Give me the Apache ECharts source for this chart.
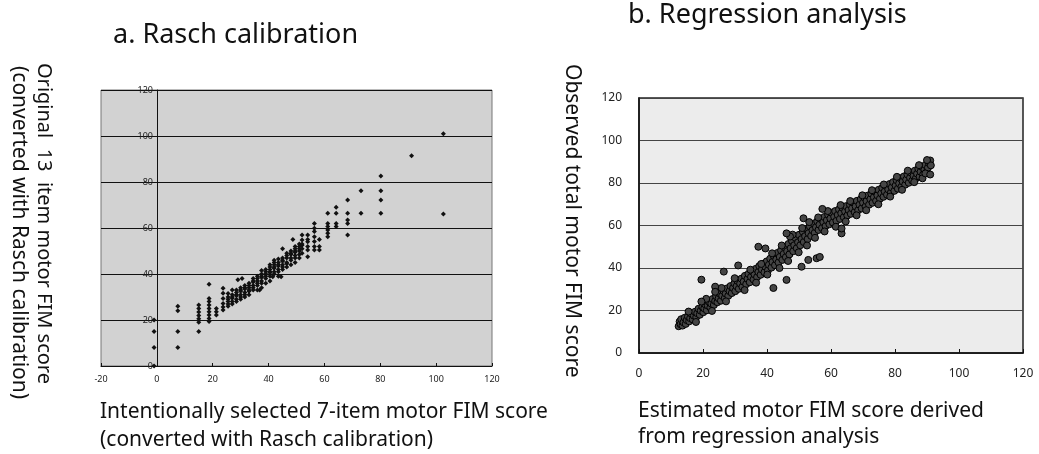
<!DOCTYPE html>
<html>
<head>
<meta charset="utf-8">
<script src="https://cdn.jsdelivr.net/npm/echarts@6/dist/echarts.min.js"></script>
<style>
  html, body { margin: 0; padding: 0; background: #fff; }
  #main { width: 1039px; height: 454px; }
</style>
</head>
<body>
<div id="main"></div>
<script>
// a. Rasch calibration: [7-item score, 13-item score]
const raschPoints = [
  [-1, 0], [-1, 8], [-1, 15], [-1, 20],
  [7.5, 8], [7.5, 15], [7.5, 24], [7.5, 26],
  [15, 15], [15, 19], [15, 20.5], [15, 22], [15, 23.5], [15, 25], [15, 26.5],
  [18.7, 19.3], [18.7, 20.7], [18.7, 22.2], [18.7, 23.6], [18.7, 25], [18.7, 26.5], [18.7, 28], [18.7, 29.4], [18.7, 35.5],
  [21.3, 22.2], [21.3, 23.6], [21.3, 25],
  [23.7, 24.3], [23.7, 25.7], [23.7, 27.2], [23.7, 29.4], [23.7, 31.6], [23.7, 33.8],
  [25.5, 26], [25.5, 27], [25.5, 28], [25.5, 29], [25.5, 30], [25.5, 31.5],
  [27, 27], [27, 28], [27, 29.5], [27, 30], [27, 31], [27, 33],
  [28.5, 28], [28.5, 29], [28.5, 30.5], [28.5, 31], [28.5, 32], [28.5, 33], [29, 37.5],
  [30, 29], [30, 30], [30, 31], [30, 32.5], [30, 33], [30, 34], [30.5, 38],
  [31.5, 30], [31.5, 31], [31.5, 32], [31.5, 33.5], [31.5, 34], [31.5, 35],
  [33, 31], [33, 32.5], [33, 33], [33, 34], [33, 35], [33, 36],
  [34.5, 33], [34.5, 34], [34.5, 35], [34.5, 36.5], [34.5, 37], [34.5, 38],
  [36, 33], [36, 35], [36, 36], [36, 37], [36, 38], [36, 39], [36.8, 33],
  [37.5, 34], [37.5, 36], [37.5, 37], [37.5, 38.5], [37.5, 39], [37.5, 40], [37.5, 41.5],
  [39, 36], [39, 38], [39, 39], [39, 40], [39, 41], [39, 42],
  [40.5, 37], [40.5, 39], [40.5, 40.5], [40.5, 41], [40.5, 42], [40.5, 43], [40.5, 44],
  [41.5, 38.8], [42, 40], [42, 41], [42, 42.5], [42, 43], [42, 44], [42, 45], [42, 46],
  [43.5, 39], [43.5, 41], [43.5, 42], [43.5, 43.5], [43.5, 44], [43.5, 45], [43.5, 46.5], [44.5, 38.8],
  [45, 42], [45, 43], [45, 44], [45, 45.5], [45, 46], [45, 47], [45, 51],
  [46.5, 43], [46.5, 44.5], [46.5, 45], [46.5, 47], [46.5, 48], [46.5, 49],
  [48, 44], [48, 46], [48, 47], [48, 48.5], [48, 49], [48, 50], [48.7, 55],
  [49.5, 45], [49.5, 47], [49.5, 48], [49.5, 49.5], [49.5, 50], [49.5, 51], [49.5, 52],
  [51, 47], [51, 48.5], [51, 50], [51, 51], [51, 52], [51, 53],
  [52, 49], [52, 51], [52, 52.5], [52, 53], [52, 54.8], [52, 57],
  [54, 47.5], [54, 50.4], [54, 52], [54, 54], [54, 55], [54, 57],
  [56.4, 50.4], [56.4, 52], [56.4, 54.1], [56.4, 56.2], [56.4, 58.5], [56.4, 59.9], [56.4, 62],
  [58.2, 50.4], [58.2, 52], [58.2, 55],
  [61.2, 56.2], [61.2, 57.7], [61.2, 59.1], [61.2, 60.6], [61.2, 62], [61.2, 66.4],
  [64.2, 60.6], [64.2, 62], [64.2, 66.4], [64.2, 69],
  [68.3, 57], [68.3, 62], [68.3, 63.5], [68.3, 66.4], [68.3, 72.2],
  [73.1, 66.4], [73.1, 76.2],
  [80.2, 66.4], [80.2, 72.2], [80.2, 76.2], [80.2, 82.6],
  [91.2, 91.4],
  [102.6, 66.1], [102.6, 101]
];

// b. Regression analysis: [estimated score, observed score]
const regressionBand = [
  [12.4, 12.6], [12.7, 14.8], [13.0, 13.5], [13.2, 15.9], [13.6, 12.9], [13.9, 14.4], [14.3, 16.6],
  [14.6, 13.7], [14.9, 15.5], [15.3, 17.2], [15.7, 14.9], [16.0, 16.4], [16.3, 18.5], [16.8, 15.8],
  [17.1, 17.6], [17.5, 19.4], [17.9, 16.9], [18.2, 18.7], [18.6, 20.8], [19.0, 18.0], [19.3, 19.9],
  [19.8, 21.7], [20.1, 19.2], [20.4, 21.0], [20.7, 22.9], [21.2, 20.1], [21.5, 22.3], [21.9, 24.1],
  [22.3, 21.4], [22.6, 23.2], [23.0, 25.4], [23.4, 22.6], [23.8, 24.5], [24.1, 26.8], [24.5, 23.9],
  [24.9, 25.7], [25.3, 27.9], [25.6, 24.6], [26.0, 26.9], [26.4, 29.2], [26.8, 25.8], [27.1, 28.0],
  [27.5, 30.4], [27.9, 26.9], [28.3, 29.1], [28.6, 31.5], [29.0, 28.2], [29.4, 30.6], [29.8, 32.8],
  [30.1, 29.1], [30.5, 31.4], [30.8, 33.9], [31.2, 30.2], [31.6, 32.7], [32.0, 35.0], [32.3, 31.1],
  [32.7, 33.6], [33.1, 36.3], [33.5, 32.4], [33.9, 34.9], [34.2, 37.2], [34.6, 33.3], [35.0, 35.8],
  [35.4, 38.4], [35.8, 34.6], [36.1, 37.0], [36.5, 39.6], [36.9, 35.7], [37.3, 38.1], [37.6, 40.9],
  [38.0, 36.8], [38.4, 39.3], [38.8, 42.0], [39.2, 38.0], [39.5, 40.6], [39.9, 43.1],
  [40.3, 38.9], [40.6, 41.5], [41.0, 44.4], [41.4, 40.2], [41.7, 42.8], [42.1, 45.7], [42.5, 41.3],
  [42.9, 44.0], [43.3, 47.1], [43.6, 42.6], [44.0, 45.2], [44.4, 48.3], [44.8, 43.8], [45.2, 46.6],
  [45.5, 49.8], [45.9, 45.1], [46.3, 47.9], [46.7, 51.3], [47.0, 46.4], [47.4, 49.3], [47.8, 52.8],
  [48.2, 47.9], [48.5, 50.7], [48.9, 54.2], [49.3, 49.3], [49.7, 52.1],
  [50.0, 55.6], [50.4, 50.7], [50.8, 53.6], [51.2, 57.1], [51.5, 52.2], [51.9, 55.0], [52.3, 58.4],
  [52.7, 53.6], [53.0, 56.4], [53.4, 59.6], [53.8, 55.1], [54.2, 57.8], [54.6, 60.9], [54.9, 56.5],
  [55.3, 59.2], [55.7, 62.0], [56.1, 57.9], [56.4, 60.4], [56.8, 63.1], [57.2, 58.8], [57.6, 61.6],
  [57.9, 64.0], [58.3, 59.7], [58.7, 62.5], [59.1, 65.1], [59.5, 60.6], [59.8, 63.3],
  [60.2, 66.0], [60.6, 61.4], [61.0, 64.1], [61.3, 66.8], [61.7, 62.2], [62.1, 65.0], [62.5, 67.6],
  [62.8, 63.1], [63.2, 65.8], [63.6, 68.3], [64.0, 63.9], [64.4, 66.6], [64.7, 69.1], [65.1, 64.7],
  [65.5, 67.3], [65.9, 69.9], [66.2, 65.5], [66.6, 68.1], [67.0, 70.8], [67.4, 66.3], [67.7, 69.0],
  [68.1, 71.6], [68.5, 67.2], [68.9, 69.8], [69.3, 72.4], [69.6, 68.0],
  [70.0, 70.7], [70.4, 73.2], [70.8, 68.9], [71.1, 71.5], [71.5, 74.1], [71.9, 69.8], [72.3, 72.4],
  [72.6, 75.0], [73.0, 70.7], [73.4, 73.3], [73.8, 75.9], [74.1, 71.6], [74.5, 74.2], [74.9, 76.8],
  [75.3, 72.6], [75.7, 75.1], [76.0, 77.7], [76.4, 73.5], [76.8, 76.0], [77.2, 78.6], [77.5, 74.5],
  [77.9, 77.0], [78.3, 79.5], [78.7, 75.4], [79.0, 77.9], [79.4, 80.4], [79.8, 76.3],
  [80.2, 78.8], [80.5, 81.3], [80.9, 77.3], [81.3, 79.8], [81.7, 82.2], [82.0, 78.2], [82.4, 80.7],
  [82.8, 83.1], [83.2, 79.2], [83.5, 81.6], [83.9, 84.0], [84.3, 80.1], [84.7, 82.5], [85.0, 84.9],
  [85.4, 81.1], [85.8, 83.4], [86.2, 85.8], [86.5, 82.1], [86.9, 84.4], [87.3, 86.7], [87.7, 83.0],
  [88.0, 85.3], [88.4, 87.6], [88.8, 84.0], [89.2, 86.2], [89.5, 88.5], [89.9, 85.1], [90.3, 87.2],
  [90.6, 89.4], [91.0, 90.6], [91.2, 88.3]
];

// rough edges of the band
const regressionEdge = [
  [15.5, 19.5], [17.8, 14.6], [21.0, 25.5], [22.8, 19.8], [25.8, 30.6], [27.2, 24.3], [29.9, 35.2],
  [33.0, 29.6], [34.8, 39.2], [36.6, 33.1], [38.2, 41.9], [40.1, 36.9], [41.6, 46.9], [43.9, 40.0],
  [44.6, 50.6], [46.6, 43.3], [48.0, 55.7], [49.9, 47.4], [51.0, 58.8], [52.5, 50.6], [53.2, 61.6],
  [55.0, 54.2], [56.0, 63.8], [58.0, 57.2], [59.0, 66.8], [61.5, 59.4], [63.0, 69.6], [64.6, 61.9],
  [66.0, 71.5], [68.0, 64.8], [69.8, 74.2], [71.0, 67.2], [72.8, 76.6], [74.8, 70.0], [76.5, 79.3],
  [78.5, 73.6], [80.6, 82.9], [82.2, 76.8], [84.0, 85.8], [86.0, 80.4], [87.5, 88.4], [88.6, 82.2],
  [90.0, 90.8]
];

// points lying away from the band
const regressionOutliers = [
  [19.5, 24.2], [19.5, 34.5], [23.8, 31.2], [23.8, 28.8], [26.5, 38.3], [31, 41.2], [37.3, 50],
  [39.5, 49.2], [42, 30.6], [46.1, 34.4], [47.2, 54.8], [46.1, 56.3], [50.8, 40.6], [52.9, 43.8],
  [55.5, 44.6], [56.5, 45.2], [51.4, 63.4], [57.3, 67.8], [63.3, 56.3], [63.3, 58.6], [89.5, 84.5],
  [91, 84]
];

const regressionPoints = regressionBand.concat(regressionEdge, regressionOutliers);

const fontFam = 'Noto Sans, DejaVu Sans, sans-serif';

const chart = echarts.init(document.getElementById('main'));

function label(text, x, y, size, rotate) {
  return {
    type: 'text',
    x: x,
    y: y,
    rotation: rotate ? -Math.PI / 2 : 0,
    style: {
      text: text,
      fill: '#111',
      font: size + 'px ' + fontFam,
      textAlign: 'left',
      textVerticalAlign: 'middle'
    }
  };
}

chart.setOption({
  animation: false,
  backgroundColor: '#fff',
  grid: [
    { left: 101, top: 90, width: 391, height: 276, show: true,
      backgroundColor: '#d2d2d2', borderColor: '#777', borderWidth: 1 },
    { left: 639, top: 98, width: 384, height: 255, show: true,
      backgroundColor: '#ececec', borderColor: '#222', borderWidth: 1.5 }
  ],
  xAxis: [
    {
      type: 'value', gridIndex: 0, min: -20, max: 120, interval: 20,
      axisLine: { show: true, onZero: false, lineStyle: { color: '#111', width: 1 } },
      axisTick: { show: true, inside: true, length: 3, lineStyle: { color: '#111' } },
      axisLabel: { fontSize: 9, color: '#222', margin: 9, fontFamily: fontFam },
      splitLine: { show: false }
    },
    {
      type: 'value', gridIndex: 1, min: 0, max: 120, interval: 20,
      axisLine: { show: true, lineStyle: { color: '#111', width: 1.5 } },
      axisTick: { show: true, inside: true, length: 4, lineStyle: { color: '#111' } },
      axisLabel: { fontSize: 12, color: '#222', margin: 15, fontFamily: fontFam },
      splitLine: { show: false }
    }
  ],
  yAxis: [
    {
      // axis sits at x = 0, i.e. 56px inside the left edge of the grid
      type: 'value', gridIndex: 0, min: 0, max: 120, interval: 20, offset: -56,
      axisLine: { show: true, onZero: false, lineStyle: { color: '#111', width: 1 } },
      axisTick: { show: true, length: 2, lineStyle: { color: '#111' } },
      axisLabel: { fontSize: 9, color: '#222', margin: 4, fontFamily: fontFam },
      splitLine: { show: true, lineStyle: { color: '#111', width: 1.2 } }
    },
    {
      type: 'value', gridIndex: 1, min: 0, max: 120, interval: 20,
      axisLine: { show: true, lineStyle: { color: '#111', width: 1.5 } },
      axisTick: { show: false },
      axisLabel: { fontSize: 12, color: '#222', margin: 17, fontFamily: fontFam },
      splitLine: { show: true, lineStyle: { color: '#444', width: 1.2 } }
    }
  ],
  series: [
    {
      type: 'scatter', xAxisIndex: 0, yAxisIndex: 0,
      data: raschPoints, symbol: 'diamond', symbolSize: 5,
      itemStyle: { color: '#111', opacity: 1 }
    },
    {
      type: 'scatter', xAxisIndex: 1, yAxisIndex: 1,
      data: regressionPoints, symbol: 'circle', symbolSize: 7,
      itemStyle: { color: '#454545', borderColor: '#000', borderWidth: 1, opacity: 1 }
    }
  ],
  graphic: [
    label('a. Rasch calibration', 113, 35, 27, false),
    label('b. Regression analysis', 628, 15, 27, false),
    label('Original  13  item motor FIM score', 44, 63, 20, true),
    label('(converted with Rasch calibration)', 19, 66, 21, true),
    label('Observed total motor FIM score', 572, 64, 21, true),
    label('Intentionally selected 7-item motor FIM score', 100, 412, 21, false),
    label('(converted with Rasch calibration)', 100, 440, 21, false),
    label('Estimated motor FIM score derived', 638, 411, 21, false),
    label('from regression analysis', 638, 437, 21, false)
  ]
});
</script>
</body>
</html>
